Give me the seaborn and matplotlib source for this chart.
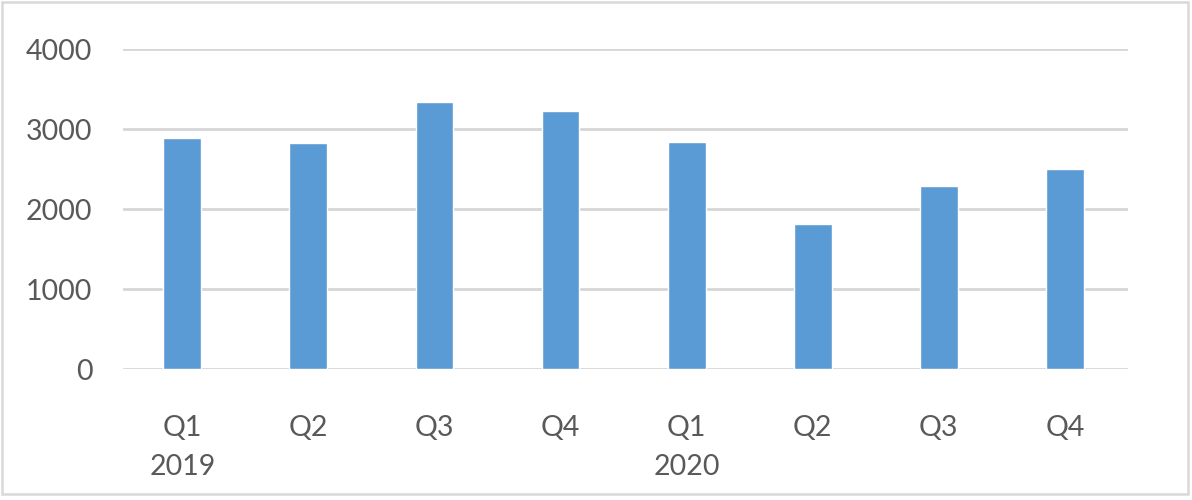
import matplotlib
matplotlib.use('Agg')
import matplotlib.pyplot as plt
import seaborn as sns
import pandas as pd
from matplotlib.patches import Rectangle

# chart data
quarters = ['Q1', 'Q2', 'Q3', 'Q4', 'Q1', 'Q2', 'Q3', 'Q4']
years = ['2019', '2019', '2019', '2019', '2020', '2020', '2020', '2020']
values = [2885, 2830, 3340, 3225, 2840, 1815, 2290, 2500]
y_ticks = [0, 1000, 2000, 3000, 4000]

df = pd.DataFrame({'key': [y + ' ' + q for y, q in zip(years, quarters)],
                   'value': values})

sns.set_theme(style='white')
plt.rcParams['font.family'] = ['Lato', 'DejaVu Sans']

fig = plt.figure(figsize=(11.92, 5.0), dpi=100)
ax = fig.add_axes([0.1032, 0.2614, 0.8431, 0.64])

sns.barplot(data=df, x='key', y='value', color='#5B9BD5', saturation=1,
            width=0.3, ax=ax, zorder=3)

ax.set_ylim(0, 4000)
ax.set_xlim(-0.47, len(values) - 0.5)
ax.set_yticks(y_ticks)
ax.yaxis.grid(True, color='#D6D6D6', linewidth=2.0, zorder=0)
ax.set_axisbelow(True)

# quarter labels with year under the first quarter of each year
labels = []
for i, (q, y) in enumerate(zip(quarters, years)):
    if i == 0 or years[i - 1] != y:
        labels.append(q + '\n' + y)
    else:
        labels.append(q)
ax.set_xticks(range(len(labels)))
ax.set_xticklabels(labels, linespacing=1.6, va='top')

ax.tick_params(axis='both', length=0, labelsize=20.5, labelcolor='#595959')
ax.tick_params(axis='x', pad=33)
ax.tick_params(axis='y', pad=22)
ax.set_xlabel('')
ax.set_ylabel('')
for s in ax.spines.values():
    s.set_visible(False)

# outer chart border
fig.patches.append(Rectangle((0.002, 0.012), 0.995, 0.984, transform=fig.transFigure,
                             fill=False, edgecolor='#D9D9D9', linewidth=1.8))

plt.savefig('out.png', dpi=100)
plt.close()
